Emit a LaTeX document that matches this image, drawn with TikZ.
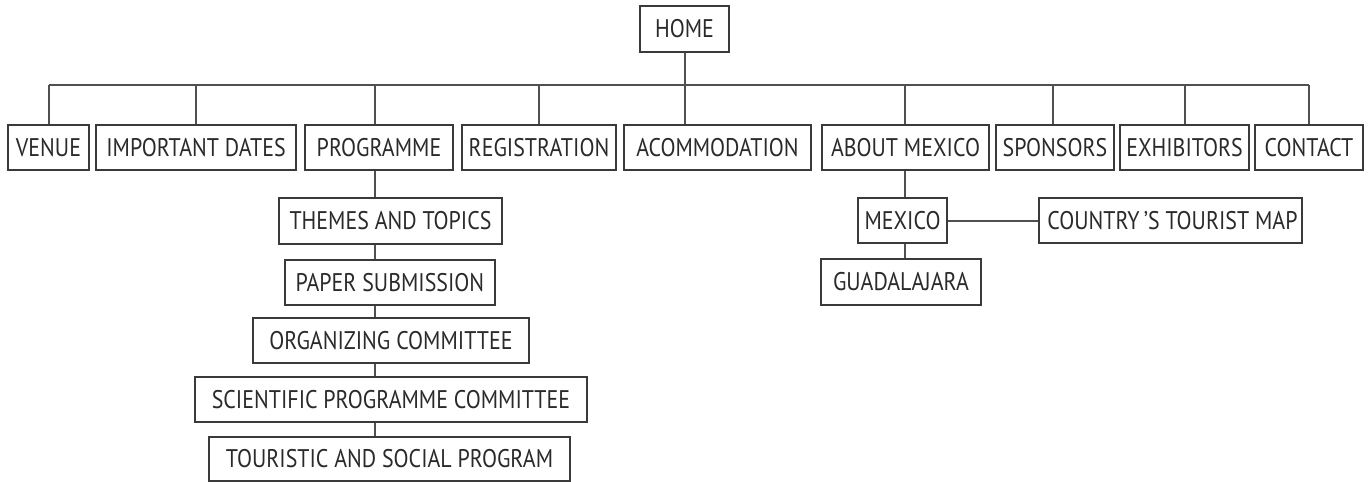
\documentclass[tikz,border=0pt]{standalone}
\usepackage{fontspec}
\setmainfont{PT Sans}[FakeStretch=0.86]
\begin{document}
\begin{tikzpicture}[x=1pt,y=-1pt,
  box/.style={draw=boxc, line width=2pt, fill=white, inner sep=0pt, minimum height=45pt, text=txtc, font=\fontsize{25.5}{25.5}\selectfont},
  link/.style={draw=linec, line width=2pt}]
\definecolor{boxc}{HTML}{3A3A3A}
\definecolor{linec}{HTML}{505050}
\definecolor{txtc}{HTML}{2A2A2A}
\useasboundingbox (0,0) rectangle (1369,482);
% top
\node[box, minimum width=89pt, minimum height=46pt] (home) at (684.5,29) {HOME};
% first level
\node[box, minimum width=81pt]  (venue)   at (48.5,147.5)  {VENUE};
\node[box, minimum width=200pt] (dates)   at (196,147.5)   {IMPORTANT DATES};
\node[box, minimum width=148pt] (prog)    at (379,147.5)   {PROGRAMME};
\node[box, minimum width=154pt] (reg)     at (539,147.5)   {REGISTRATION};
\node[box, minimum width=187pt] (acc)     at (717.5,147.5) {ACOMMODATION};
\node[box, minimum width=167pt] (about)   at (905.5,147.5) {ABOUT MEXICO};
\node[box, minimum width=118pt] (spons)   at (1055,147.5)  {SPONSORS};
\node[box, minimum width=129pt] (exhib)   at (1184.5,147.5){EXHIBITORS};
\node[box, minimum width=108pt] (contact) at (1309,147.5)  {CONTACT};
% programme children
\node[box, minimum width=223pt, minimum height=46pt] (themes) at (390.5,221) {THEMES AND TOPICS};
\node[box, minimum width=210pt] (paper) at (390,282.5) {PAPER SUBMISSION};
\node[box, minimum width=276pt] (org)   at (391,340.5) {ORGANIZING COMMITTEE};
\node[box, minimum width=392pt] (sci)   at (391,399.5) {SCIENTIFIC PROGRAMME COMMITTEE};
\node[box, minimum width=361pt, minimum height=44pt] (tour)  at (389.5,459) {TOURISTIC AND SOCIAL PROGRAM};
% about mexico children
\node[box, minimum width=89pt]  (mexico) at (902.5,220.5) {MEXICO};
\node[box, minimum width=263pt] (ctm)    at (1170.5,220.5) {\hspace{4pt}COUNTRY\,'S TOURIST MAP};
\node[box, minimum width=160pt, minimum height=46pt] (guad) at (901,282) {GUADALAJARA};
% helper coordinates
\coordinate (bus) at (0,85);
\coordinate (px) at (375,0);
\coordinate (mx) at (905,0);
% connectors
\draw[link] (home.south) -- (acc.north -| home.south);
\draw[link] (venue.north |- bus) -- (contact.north |- bus);
\draw[link] (venue.north |- bus) -- (venue.north);
\draw[link] (dates.north |- bus) -- (dates.north);
\draw[link] (bus -| px) -- (prog.north -| px);
\draw[link] (reg.north |- bus) -- (reg.north);
\draw[link] (bus -| mx) -- (about.north -| mx);
\draw[link] ([xshift=-2pt]spons.north |- bus) -- ([xshift=-2pt]spons.north);
\draw[link] (exhib.north |- bus) -- (exhib.north);
\draw[link] (contact.north |- bus) -- (contact.north);
\draw[link] (prog.south -| px) -- (themes.north -| px);
\draw[link] (themes.south -| px) -- (paper.north -| px);
\draw[link] (paper.south -| px) -- (org.north -| px);
\draw[link] (org.south -| px) -- (sci.north -| px);
\draw[link] (sci.south -| px) -- (tour.north -| px);
\draw[link] (about.south -| mx) -- (mexico.north -| mx);
\draw[link] (mexico.south -| mx) -- (guad.north -| mx);
\draw[link] (mexico.east) -- (ctm.west);
\end{tikzpicture}
\end{document}
